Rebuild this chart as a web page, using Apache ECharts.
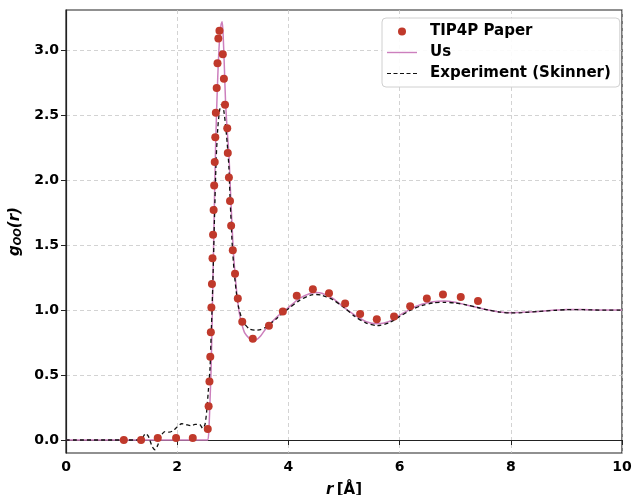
<!DOCTYPE html>
<html><head><meta charset="utf-8">
<script src="https://cdn.jsdelivr.net/npm/echarts@6/dist/echarts.min.js"></script>
<style>html,body{margin:0;padding:0;background:#fff}#c{width:634px;height:495px}</style>
</head><body><div id="c"></div>
<script>
// TIP4P Paper points
const tip4pR = [1.04,1.35,1.65,1.98,2.28,2.55,2.565,2.58,2.595,2.605,2.615,2.625,2.635,2.645,2.655,2.665,2.675,2.685,2.695,2.71,2.725,2.74,2.76,
  2.82,2.84,2.86,2.90,2.91,2.93,2.95,2.97,3.00,3.04,3.09,3.17,3.36,3.65,3.90,4.15,4.44,4.73,5.02,5.29,5.59,5.90,6.19,6.49,6.78,7.10,7.41];
const tip4pG = [0.00,0.00,0.015,0.015,0.015,0.085,0.26,0.45,0.64,0.83,1.02,1.20,1.40,1.58,1.77,1.96,2.14,2.33,2.52,2.71,2.90,3.09,3.15,
  2.97,2.78,2.58,2.40,2.21,2.02,1.84,1.65,1.46,1.28,1.09,0.91,0.78,0.88,0.99,1.11,1.16,1.13,1.05,0.97,0.93,0.95,1.03,1.09,1.12,1.10,1.07];
// "Us" curve
const usR = [0,1.0,2.0,2.5,2.55,2.57,2.59,2.61,2.63,2.65,2.67,2.69,2.71,2.73,2.75,2.77,2.79,2.81,2.83,2.85,2.87,2.90,2.93,2.95,2.97,2.99,3.01,3.04,3.08,3.12,3.17,3.22,3.30,3.36,3.42,3.50,3.60,3.80,4.00,4.20,4.40,4.50,4.60,4.80,5.00,5.20,5.40,5.60,5.80,6.00,6.20,6.40,6.60,6.80,7.00,7.20,7.40,7.60,7.80,8.00,8.20,8.50,8.80,9.00,9.30,9.60,10.0];
const usG = [0,0,0,0,0.0,0.08,0.30,0.55,0.95,1.40,1.85,2.25,2.55,2.80,3.00,3.12,3.20,3.22,3.08,2.85,2.60,2.38,2.20,2.00,1.80,1.62,1.45,1.28,1.10,0.97,0.88,0.82,0.78,0.765,0.77,0.80,0.86,0.95,1.02,1.09,1.13,1.135,1.13,1.09,1.02,0.96,0.91,0.895,0.91,0.96,1.01,1.045,1.065,1.07,1.06,1.04,1.02,1.00,0.985,0.98,0.983,0.99,1.00,1.005,1.005,1.00,1.00];
// Experiment (Skinner) curve
const expR = [0,1.0,1.3,1.38,1.43,1.48,1.55,1.60,1.65,1.72,1.78,1.85,1.92,2.00,2.08,2.15,2.25,2.32,2.40,2.46,2.50,2.53,2.56,2.59,2.61,2.63,2.65,2.67,2.70,2.73,2.76,2.79,2.81,2.84,2.87,2.90,2.93,2.95,2.97,2.99,3.02,3.06,3.10,3.15,3.20,3.30,3.40,3.50,3.60,3.80,4.00,4.20,4.40,4.50,4.60,4.80,5.00,5.20,5.40,5.60,5.80,6.00,6.20,6.40,6.60,6.80,7.00,7.20,7.40,7.60,7.80,8.00,8.20,8.50,8.80,9.00,9.30,9.60,10.0];
const expG = [0,0,0,0.02,0.05,0.03,-0.05,-0.075,-0.04,0.04,0.065,0.06,0.07,0.10,0.125,0.12,0.11,0.12,0.12,0.09,0.12,0.22,0.38,0.55,0.80,1.05,1.35,1.70,2.15,2.40,2.53,2.58,2.58,2.53,2.42,2.28,2.10,1.87,1.68,1.50,1.32,1.15,1.03,0.95,0.90,0.855,0.845,0.85,0.87,0.94,1.01,1.075,1.115,1.12,1.115,1.08,1.02,0.95,0.90,0.88,0.90,0.95,1.00,1.035,1.055,1.06,1.055,1.04,1.02,1.00,0.985,0.978,0.98,0.99,0.998,1.003,1.003,1.00,1.00];
const xTicks = [0,2,4,6,8,10];
const yTicks = [0.0,0.5,1.0,1.5,2.0,2.5,3.0];

const zip = (a,b) => a.map((v,i)=>[v,b[i]]);
const font = 'DejaVu Sans';
const frame = 'M0,0M30,14';
const dotIcon = 'path://' + frame + 'M11,7A4,4,0,1,0,19,7A4,4,0,1,0,11,7Z';
const lineIcon = 'path://' + frame + 'M0,6.3H30V7.7H0Z';
let dashIcon = 'path://' + frame;
for (let x = 0; x < 30; x += 6.5) dashIcon += 'M' + x + ',6.4H' + Math.min(x + 4, 30) + 'V7.6H' + x + 'Z';

const chart = echarts.init(document.getElementById('c'), null, {renderer:'canvas'});
chart.setOption({
  animation:false,
  backgroundColor:'#fff',
  grid:{left:66,right:12,top:10,bottom:42,containLabel:false,outerBoundsMode:'none',
    show:true,borderColor:'#222',borderWidth:1.2,backgroundColor:'transparent'},
  xAxis:{type:'value',min:0,max:10,interval:2,
    name:'{i|r} {b|[Å]}',nameLocation:'middle',nameGap:30,
    nameTextStyle:{rich:{i:{fontFamily:font,fontStyle:'italic',fontWeight:'bold',fontSize:15,color:'#000'},b:{fontFamily:font,fontWeight:'bold',fontSize:15,color:'#000'}}},
    axisLine:{show:true,lineStyle:{color:'#222',width:1.2}},
    axisTick:{show:true,inside:false,length:5,lineStyle:{color:'#222'}},
    axisLabel:{fontFamily:font,fontWeight:'bold',fontSize:14,color:'#000',margin:7},
    splitLine:{show:true,lineStyle:{color:'#c8c8c8',type:[4,3],width:0.8}}
  },
  yAxis:{type:'value',min:-0.1,max:3.31,
    name:'{g|g}{s|OO}{g|(r)}',nameLocation:'middle',nameGap:36,nameRotate:90,
    nameTextStyle:{rich:{g:{fontFamily:font,fontStyle:'italic',fontWeight:'bold',fontSize:15,color:'#000'},s:{fontFamily:font,fontStyle:'italic',fontWeight:'bold',fontSize:10,color:'#000',padding:[7,0,0,0]}}},
    axisLine:{show:true,lineStyle:{color:'#222',width:1.2}},
    axisTick:{show:true,inside:false,length:5,lineStyle:{color:'#222'},customValues:yTicks},
    axisLabel:{fontFamily:font,fontWeight:'bold',fontSize:14,color:'#000',margin:7,customValues:yTicks,formatter:v=>v.toFixed(1)},
    splitLine:{show:true,lineStyle:{color:'#c8c8c8',type:[4,3],width:0.8}}
  },
  legend:{orient:'vertical',left:382,top:18,
    backgroundColor:'rgba(255,255,255,0.9)',borderColor:'#d0d0d0',borderWidth:1,borderRadius:4,
    padding:[6,9,6,5],itemGap:6,itemWidth:30,itemHeight:14,
    itemStyle:{borderWidth:0},
    textStyle:{fontFamily:font,fontWeight:'bold',fontSize:15,color:'#000',padding:[0,0,0,8]},
    data:[{name:'TIP4P Paper',icon:dotIcon},{name:'Us',icon:lineIcon},{name:'Experiment (Skinner)',icon:dashIcon}]
  },
  series:[
    {name:'Us',type:'line',data:zip(usR,usG),symbol:'none',smooth:0.25,z:2,
      lineStyle:{color:'#cc7fbd',width:1.5},itemStyle:{color:'#cc7fbd'}},
    {name:'Experiment (Skinner)',type:'line',data:zip(expR,expG),symbol:'none',smooth:0.25,z:3,
      lineStyle:{color:'#111',width:1.3,type:[4,3]},itemStyle:{color:'#111'}},
    {name:'TIP4P Paper',type:'scatter',data:zip(tip4pR,tip4pG),symbol:'circle',symbolSize:8,z:4,
      itemStyle:{color:'#c0392b',opacity:1}}
  ]
});
</script></body></html>
